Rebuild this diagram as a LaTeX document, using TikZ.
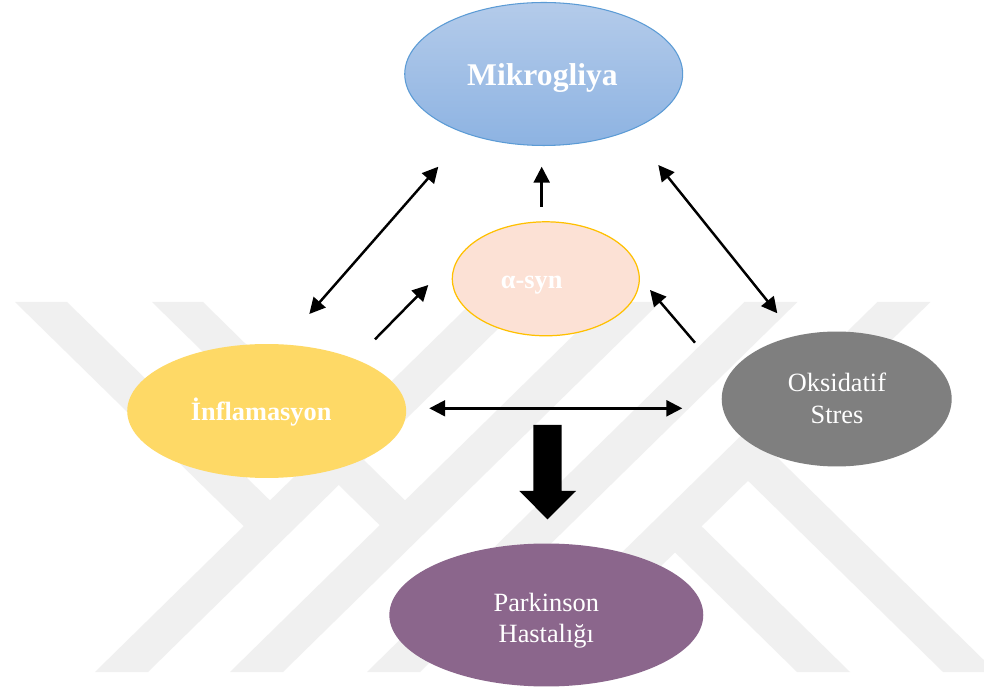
\documentclass[tikz,border=0pt]{standalone}
\usepackage{fontspec}
\setmainfont{Liberation Serif}
\usetikzlibrary{shapes.geometric,arrows.meta}
\definecolor{wm}{HTML}{F0F0F0}
\definecolor{mtop}{RGB}{180,203,234}
\definecolor{mbot}{RGB}{141,179,226}
\definecolor{mbord}{RGB}{91,155,213}
\definecolor{sfill}{RGB}{252,225,213}
\definecolor{sbord}{RGB}{255,192,0}
\definecolor{ifill}{RGB}{254,217,102}
\definecolor{ofill}{RGB}{127,127,127}
\definecolor{pfill}{RGB}{139,102,140}
\begin{document}
\begin{tikzpicture}[x=0.02cm,y=-0.02cm,
  blob/.style={ellipse, inner sep=0pt},
  lbl/.style={anchor=base, text=white, inner sep=0pt, font=\fontsize{15}{18}\selectfont},
  blbl/.style={lbl, font=\bfseries\fontsize{15}{18}\selectfont},
  conn/.style={line width=1.4pt, -{Triangle[length=9pt,width=9pt]}},
  dconn/.style={line width=1.4pt, {Triangle[length=9pt,width=9pt]}-{Triangle[length=9pt,width=9pt]}}]
\useasboundingbox (0,0) rectangle (984,695);
\fill[white] (0,0) rectangle (984,695);
% watermark
\begin{scope}
\clip (0,0) rectangle (984,695);
\fill[wm] (95,672) -- (148,672) -- (525.4,302) -- (472.4,302) -- cycle;
\fill[wm] (230,672) -- (283,672) -- (660.4,302) -- (607.4,302) -- cycle;
\fill[wm] (367,672) -- (420,672) -- (797.4,302) -- (744.4,302) -- cycle;
\fill[wm] (500,672) -- (553,672) -- (930.4,302) -- (877.4,302) -- cycle;
\fill[wm] (15,302) -- (67,302) -- (290,520) -- (265,547) -- cycle;
\fill[wm] (152,302) -- (203,302) -- (425,520) -- (402,547) -- cycle;
\fill[wm] (797,672) -- (850,672) -- (690,515) -- (667.5,545) -- cycle;
\fill[wm] (943,672) -- (996,672) -- (764.5,445) -- (737,470) -- cycle;
\end{scope}
% ellipses
\node[blob, top color=mtop, bottom color=mbot, draw=mbord, line width=0.6pt,
      minimum width=5.56cm, minimum height=2.86cm] (mik) at (543.7,74) {};
\node[blob, fill=sfill, draw=sbord, line width=0.7pt,
      minimum width=3.74cm, minimum height=2.28cm] (asyn) at (545.8,278.8) {};
\node[blob, fill=ifill, minimum width=5.58cm, minimum height=2.68cm] (inf) at (266.7,411) {};
\node[blob, fill=ofill, minimum width=4.6cm, minimum height=2.7cm] (oks) at (836.7,399) {};
\node[blob, fill=pfill, minimum width=6.28cm, minimum height=2.86cm] (park) at (546.3,615) {};
% labels
\node[lbl, font=\bfseries\fontsize{18}{21}\selectfont] (mikT) at (542.5,86) {Mikrogliya};
\node[blbl] (asynT) at (531.7,288.5) {α-syn};
\node[blbl] (infT) at (261.2,420.5) {İnflamasyon};
\node[lbl] (oksT1) at (837,391.5) {Oksidatif};
\node[lbl] (oksT2) at (837,423.5) {Stres};
\node[lbl] (parkT1) at (546.3,611.7) {Parkinson};
\node[lbl] (parkT2) at (546.3,642.7) {Hastalığı};
% connector end points
\coordinate (a1s) at (309.3,314);
\coordinate (a1e) at (438.3,166.7);
\coordinate (a2s) at (541.7,206.7);
\coordinate (a2e) at (541.7,166.7);
\coordinate (a3s) at (375,339.3);
\coordinate (a3e) at (428.3,285);
\coordinate (a4s) at (695,342.7);
\coordinate (a4e) at (650,290);
\coordinate (a5s) at (658.3,165);
\coordinate (a5e) at (777.3,313.3);
\coordinate (a6s) at (429.3,408.3);
\coordinate (a6e) at (682.3,408.3);
\draw[dconn] (a1s) -- (a1e);
\draw[conn] (a2s) -- (a2e);
\draw[conn] (a3s) -- (a3e);
\draw[conn] (a4s) -- (a4e);
\draw[dconn] (a5s) -- (a5e);
\draw[dconn] (a6s) -- (a6e);
% block arrow
\fill[black] (533.3,425) -- (561.7,425) -- (561.7,491) -- (576,491) -- (547.5,519.3)
  -- (519.3,491) -- (533.3,491) -- cycle;
\end{tikzpicture}
\end{document}
